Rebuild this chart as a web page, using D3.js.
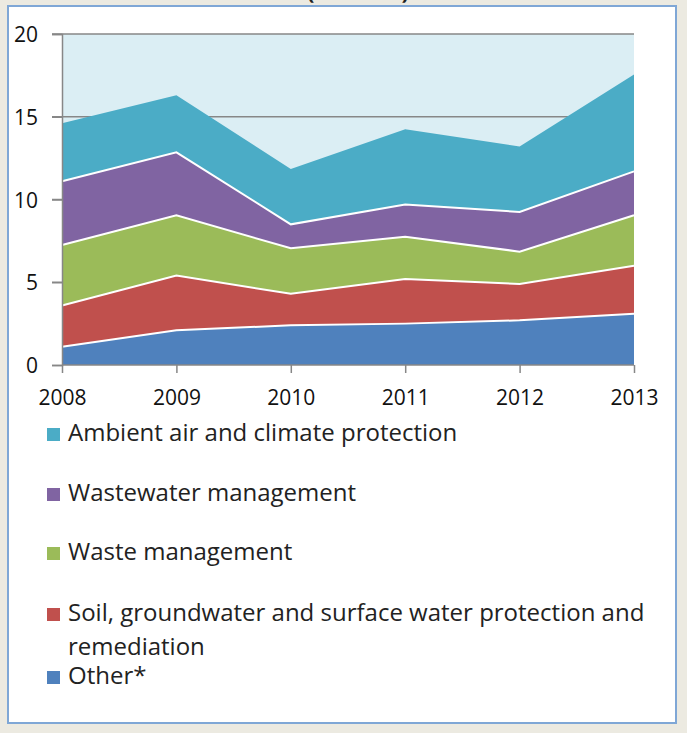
<!DOCTYPE html>
<html><head><meta charset="utf-8">
<script src="https://cdn.jsdelivr.net/npm/d3@7"></script>
<style>html,body{margin:0;padding:0;background:#ECEAE1;}svg{display:block;}</style>
</head><body>
<svg id="c" width="687" height="733"></svg>
<script>
const years = [2008, 2009, 2010, 2011, 2012, 2013];
const seriesNames = ["Other*", "Soil, groundwater and surface water protection and remediation", "Waste management", "Wastewater management", "Ambient air and climate protection"];
const other = [1.1, 2.1, 2.4, 2.5, 2.7, 3.1];
const soil = [2.5, 3.3, 1.9, 2.7, 2.2, 2.9];
const waste = [3.65, 3.65, 2.75, 2.55, 1.95, 3.05];
const wastewater = [3.85, 3.8, 1.45, 1.95, 2.4, 2.65];
const ambient = [3.5, 3.45, 3.35, 4.55, 3.95, 5.85];
const colors = ["#4F81BD", "#C0504D", "#9BBB59", "#8064A2", "#4BACC6"];
const yTicks = [0, 5, 10, 15, 20];
const legendOrder = [4, 3, 2, 1, 0];

const svg = d3.select("#c");
const font = "'Open Sans', sans-serif";
// panel
svg.append("rect").attr("x", 8).attr("y", 6).attr("width", 668).attr("height", 717)
  .attr("fill", "#fff").attr("stroke", "#7FA7D6").attr("stroke-width", 2);
// cut-off title (only its lower edge shows, as in the reference)
svg.append("text").attr("x", 358).attr("y", -1).attr("text-anchor", "middle")
  .attr("font-family", font).attr("font-size", 22).attr("font-weight", "bold").attr("fill", "#222")
  .text("(€ billion)");

const x = d3.scalePoint().domain(years).range([62, 634]);
const y = d3.scaleLinear().domain([0, 20]).range([365, 34]);

const rows = years.map((yr, i) => ({year: yr, s0: other[i], s1: soil[i], s2: waste[i], s3: wastewater[i], s4: ambient[i]}));
const stack = d3.stack().keys(["s0", "s1", "s2", "s3", "s4"]);
const layers = stack(rows);

// plot background
svg.append("rect").attr("x", x(2008)).attr("y", y(20)).attr("width", x(2013) - x(2008)).attr("height", y(0) - y(20)).attr("fill", "#DBEEF4");

// gridlines
svg.append("g").selectAll("line").data(yTicks.filter(t => t > 0)).join("line")
  .attr("x1", 52).attr("x2", x(2013)).attr("y1", d => y(d)).attr("y2", d => y(d))
  .attr("stroke", "#878787").attr("stroke-width", 1.5);

const area = d3.area().x(d => x(d.data.year)).y0(d => y(d[0])).y1(d => y(d[1]));
svg.append("g").selectAll("path").data(layers).join("path")
  .attr("d", area).attr("fill", (d, i) => colors[i]);
const line = d3.line().x(d => x(d.data.year)).y(d => y(d[1]));
svg.append("g").selectAll("path").data(layers.slice(0, 4)).join("path")
  .attr("d", line).attr("fill", "none").attr("stroke", "#fff").attr("stroke-width", 2);

// axes
const yAxis = d3.axisLeft(y).tickValues(yTicks).tickSize(10).tickPadding(14);
const gy = svg.append("g").attr("transform", `translate(${x(2008)},0)`).call(yAxis);
const xAxis = d3.axisBottom(x).tickSize(8).tickFormat(d3.format("d"));
const gx = svg.append("g").attr("transform", `translate(0,${y(0)})`).call(xAxis);
[gy, gx].forEach(g => {
  g.select(".domain").attr("stroke", "#878787").attr("stroke-width", 1.5);
  g.selectAll(".tick line").attr("stroke", "#878787").attr("stroke-width", 1.5);
  g.selectAll("text").attr("font-family", font).attr("font-size", 21).attr("fill", "#111");
});
gy.selectAll("text").attr("dy", "0.36em");
gx.selectAll("text").attr("y", 40).attr("dy", 0);
gx.select(".domain").attr("d", `M${x(2008)},0H${x(2013)}`);

// legend
const legendY = [441, 501, 560, 621, 684];
const lg = svg.append("g");
legendOrder.forEach((si, k) => {
  const by = legendY[k];
  lg.append("rect").attr("x", 47).attr("y", by - 13).attr("width", 13).attr("height", 13).attr("fill", colors[si]);
  const t = lg.append("text").attr("x", 68).attr("y", by).attr("font-family", font).attr("font-size", 24).attr("fill", "#222");
  if (si === 1) {
    t.append("tspan").attr("x", 68).text("Soil, groundwater and surface water protection and");
    t.append("tspan").attr("x", 68).attr("dy", 34).text("remediation");
  } else {
    t.text(seriesNames[si]);
  }
});
</script>
</body></html>
